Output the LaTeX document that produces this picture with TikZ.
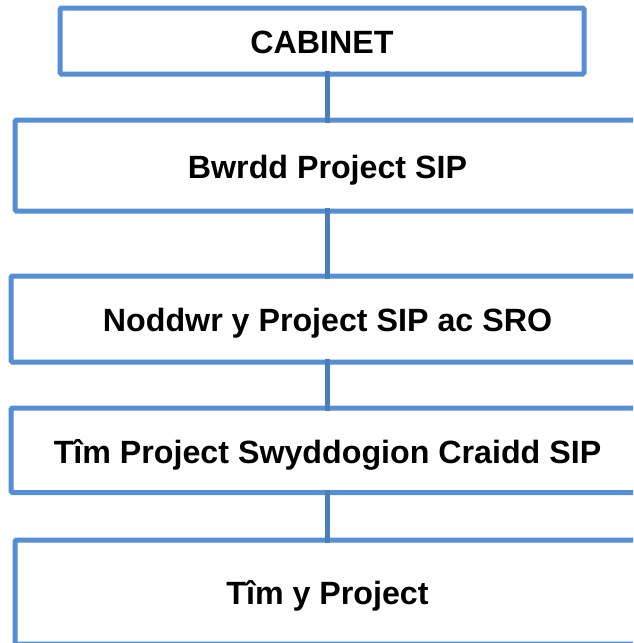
\documentclass[tikz,border=0pt]{standalone}
\usepackage{fontspec}
\setmainfont{Liberation Sans}
\definecolor{boxblue}{HTML}{558ED5}
\definecolor{linkblue}{HTML}{4A7EBB}
\begin{document}
\begin{tikzpicture}[x=1pt,y=-1pt,
  orgbox/.style={draw=boxblue, line width=5pt, rounded corners=1.5pt, fill=white,
    rectangle, inner sep=0pt, outer sep=0pt, text height=25.8pt, text depth=0pt,
    font=\fontsize{32.2}{38}\selectfont\bfseries},
  link/.style={draw=linkblue, line width=5pt, shorten <=-3pt, shorten >=-2.5pt}]
\useasboundingbox (0,0) rectangle (633,643);
\clip (0,0) rectangle (633,643);
\node[orgbox, minimum width=524pt, minimum height=66pt] (b1) at (322,41) {CABINET};
\node[orgbox, minimum width=625pt, minimum height=91pt] (b2) at (327.5,165.5) {Bwrdd Project SIP};
\node[orgbox, minimum width=633pt, minimum height=86pt] (b3) at (327.5,319) {Noddwr y Project SIP ac SRO};
\node[orgbox, minimum width=633pt, minimum height=84.5pt] (b4) at (327.5,450.25) {Tîm Project Swyddogion Craidd SIP};
\node[orgbox, minimum width=625pt, minimum height=104pt] (b5) at (327.5,592) {Tîm y Project};
\draw[link] (b2.north |- b1.south) -- (b2.north);
\draw[link] (b2.south) -- (b3.north);
\draw[link] (b3.south) -- (b4.north);
\draw[link] (b4.south) -- (b5.north);
\end{tikzpicture}
\end{document}
